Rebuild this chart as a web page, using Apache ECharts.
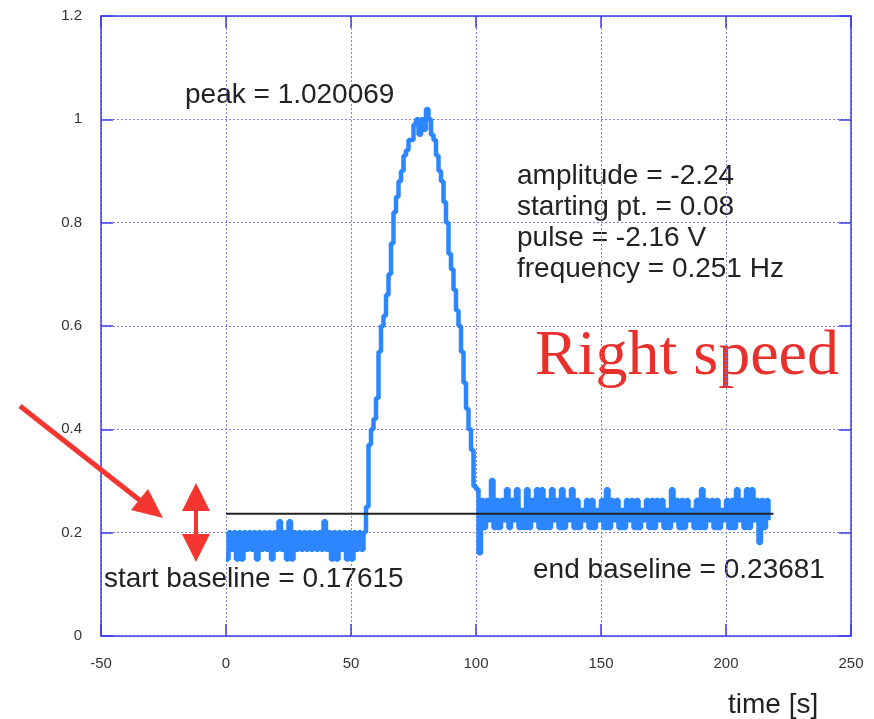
<!DOCTYPE html>
<html>
<head>
<meta charset="utf-8">
<script src="https://cdn.jsdelivr.net/npm/echarts@6/dist/echarts.min.js"></script>
<style>
html,body{margin:0;padding:0;background:#fff;}
#chart{width:874px;height:719px;}
</style>
</head>
<body>
<div id="chart"></div>
<script>
// ---- data ----
const xTicks = [-50, 0, 50, 100, 150, 200, 250];
const yTicks = [0, 0.2, 0.4, 0.6, 0.8, 1, 1.2];

const times = [
  0,1,2,3,4,5,6,7,8,9,10,11,12,13,14,15,16,17,18,19,20,21,22,23,24,25,26,27,28,29,
  30,31,32,33,34,35,36,37,38,39,40,41,42,43,44,45,46,47,48,49,50,51,52,53,54,55,
  56,57,58,59,60,61,62,63,64,65,66,67,68,69,70,71,72,73,74,75,76,77,78,79,
  80,81,82,83,84,85,86,87,88,89,90,91,92,93,94,95,96,97,98,99,
  100,101,102,103,104,105,106,107,108,109,110,111,112,113,114,115,116,117,118,119,
  120,121,122,123,124,125,126,127,128,129,130,131,132,133,134,135,136,137,138,139,
  140,141,142,143,144,145,146,147,148,149,150,151,152,153,154,155,156,157,158,159,
  160,161,162,163,164,165,166,167,168,169,170,171,172,173,174,175,176,177,178,179,
  180,181,182,183,184,185,186,187,188,189,190,191,192,193,194,195,196,197,198,199,
  200,201,202,203,204,205,206,207,208,209,210,211,212,213,214,215,216,217
];

const signal = [
  // start baseline 0..55
  0.148,0.201,0.167,0.201,0.148,0.201,0.148,0.201,0.167,0.201,
  0.167,0.201,0.148,0.201,0.167,0.201,0.167,0.201,0.148,0.201,
  0.167,0.222,0.167,0.201,0.148,0.222,0.148,0.201,0.167,0.201,
  0.167,0.201,0.167,0.201,0.167,0.201,0.167,0.201,0.167,0.222,
  0.167,0.201,0.148,0.201,0.148,0.201,0.167,0.201,0.148,0.201,
  0.148,0.201,0.167,0.201,0.167,0.201,
  // pulse 56..99
  0.25,0.37,0.40,0.42,0.46,0.55,0.60,0.62,0.66,0.70,
  0.76,0.82,0.85,0.88,0.90,0.93,0.94,0.96,0.96,0.99,
  1.00,0.97,1.00,0.98,1.02,1.00,0.97,0.96,0.93,0.90,
  0.88,0.84,0.80,0.74,0.71,0.67,0.63,0.60,0.55,0.49,
  0.44,0.40,0.36,0.29,
  // end baseline 100..217
  0.284,0.160,0.263,0.209,0.263,0.224,0.302,0.209,0.263,0.209,
  0.263,0.224,0.284,0.209,0.263,0.224,0.284,0.209,0.244,0.209,
  0.284,0.209,0.263,0.224,0.284,0.209,0.284,0.209,0.263,0.209,
  0.284,0.224,0.263,0.209,0.284,0.209,0.263,0.224,0.284,0.209,
  0.263,0.209,0.244,0.224,0.263,0.209,0.263,0.209,0.244,0.224,
  0.263,0.209,0.284,0.209,0.263,0.224,0.263,0.209,0.244,0.209,
  0.263,0.224,0.263,0.209,0.263,0.209,0.244,0.224,0.263,0.209,
  0.263,0.209,0.263,0.224,0.263,0.209,0.244,0.209,0.284,0.224,
  0.263,0.209,0.263,0.209,0.263,0.224,0.244,0.209,0.263,0.209,
  0.284,0.209,0.263,0.224,0.263,0.209,0.263,0.209,0.244,0.224,
  0.263,0.209,0.263,0.209,0.284,0.224,0.263,0.209,0.284,0.209,
  0.284,0.224,0.263,0.180,0.263,0.209,0.263,0.224
];

const baselineTimes = [0, 219];
const endBaselineValue = 0.23681;

const annotations = {
  peak: 'peak = 1.020069',
  info: ['amplitude = -2.24', 'starting pt. = 0.08', 'pulse = -2.16 V', 'frequency = 0.251 Hz'],
  speed: 'Right speed',
  startBase: 'start baseline = 0.17615',
  endBase: 'end baseline = 0.23681',
  xName: 'time [s]'
};

// ---- chart ----
const FRAME = '#3c3ce8';
const GRID = '#8080f0';
const LINE = '#2b86ff';
const RED = '#f5352f';
const TXT = '#222';
const SANS = '"Liberation Sans", Arial, Helvetica, sans-serif';
const SERIF = '"Liberation Serif", "Times New Roman", serif';

const chart = echarts.init(document.getElementById('chart'), null, {renderer: 'canvas'});

const xBase = {
  type: 'value', min: xTicks[0], max: xTicks[xTicks.length - 1], interval: xTicks[1] - xTicks[0],
  axisLine: {show: true, onZero: false, lineStyle: {color: FRAME, width: 1.5}},
  axisTick: {show: true, inside: true, length: 12, lineStyle: {color: FRAME, width: 1.5}}
};
const yBase = {
  type: 'value', min: yTicks[0], max: yTicks[yTicks.length - 1], interval: yTicks[1] - yTicks[0],
  axisLine: {show: true, onZero: false, lineStyle: {color: FRAME, width: 1.5}},
  axisTick: {show: true, inside: true, length: 12, lineStyle: {color: FRAME, width: 1.5}}
};

const infoTexts = annotations.info.map((s, i) => ({
  type: 'text', x: 517, y: 176 + i * 31,
  style: {text: s, font: '28px ' + SANS, fill: TXT, textVerticalAlign: 'middle'}
}));

chart.setOption({
  animation: false,
  backgroundColor: '#fff',
  grid: {left: 101, right: 23, top: 16, bottom: 83, containLabel: false},
  xAxis: [
    Object.assign({}, xBase, {
      position: 'bottom',
      axisLabel: {show: true, margin: 20, color: '#333', fontSize: 15, fontFamily: SANS},
      splitLine: {show: true, lineStyle: {color: GRID, type: [2, 2], width: 1}}
    }),
    Object.assign({}, xBase, {position: 'top', axisLabel: {show: false}, splitLine: {show: false}})
  ],
  yAxis: [
    Object.assign({}, yBase, {
      position: 'left',
      axisLabel: {show: true, margin: 19, color: '#333', fontSize: 15, fontFamily: SANS},
      splitLine: {show: true, lineStyle: {color: GRID, type: [2, 2], width: 1}}
    }),
    Object.assign({}, yBase, {position: 'right', axisLabel: {show: false}, splitLine: {show: false}})
  ],
  series: [
    {
      type: 'line', xAxisIndex: 0, yAxisIndex: 0, step: 'end',
      data: times.map((t, i) => [t, signal[i]]),
      showSymbol: false, symbol: 'none',
      lineStyle: {color: LINE, width: 4.5},
      z: 3
    },
    {
      type: 'line', xAxisIndex: 0, yAxisIndex: 0,
      data: baselineTimes.map(t => [t, endBaselineValue]),
      showSymbol: false, symbol: 'none',
      lineStyle: {color: '#222', width: 2},
      z: 4
    }
  ],
  graphic: [
    {type: 'text', x: 185, y: 95, style: {text: annotations.peak, font: '28px ' + SANS, fill: TXT, textVerticalAlign: 'middle'}},
    ...infoTexts,
    {type: 'text', x: 535, y: 357, style: {text: annotations.speed, font: '64px ' + SERIF, fill: '#e8312c', textVerticalAlign: 'middle'}},
    {type: 'text', x: 104, y: 579, style: {text: annotations.startBase, font: '28px ' + SANS, fill: TXT, textVerticalAlign: 'middle'}},
    {type: 'text', x: 533, y: 570, style: {text: annotations.endBase, font: '28px ' + SANS, fill: TXT, textVerticalAlign: 'middle'}},
    {type: 'text', x: 728, y: 705, style: {text: annotations.xName, font: '28px ' + SANS, fill: TXT, textVerticalAlign: 'middle'}},
    // red arrows
    {type: 'line', shape: {x1: 20, y1: 406, x2: 142, y2: 502}, style: {stroke: RED, lineWidth: 5}, z: 10},
    {type: 'polygon', shape: {points: [[163, 518], [131, 510], [148, 489]]}, style: {fill: RED}, z: 10},
    {type: 'line', shape: {x1: 196, y1: 508, x2: 196, y2: 537}, style: {stroke: RED, lineWidth: 4}, z: 10},
    {type: 'polygon', shape: {points: [[196, 483], [182, 511], [210, 511]]}, style: {fill: RED}, z: 10},
    {type: 'polygon', shape: {points: [[196, 562], [182, 534], [210, 534]]}, style: {fill: RED}, z: 10}
  ]
});
</script>
</body>
</html>
